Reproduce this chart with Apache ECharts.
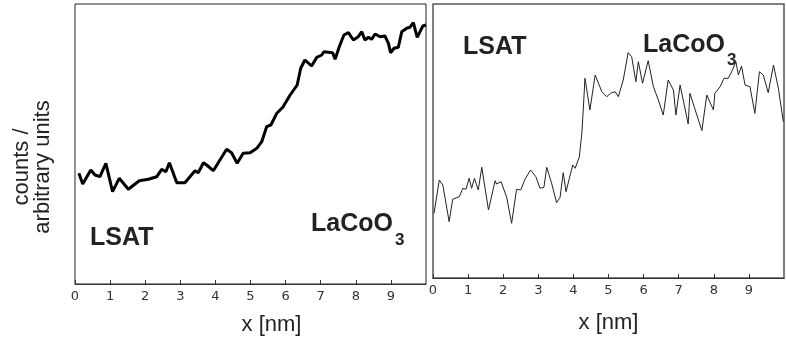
<!DOCTYPE html>
<html>
<head>
<meta charset="utf-8">
<script src="https://cdn.jsdelivr.net/npm/echarts@6/dist/echarts.min.js"></script>
<style>
  html, body { margin: 0; padding: 0; background: #fff; }
  #chart { width: 786px; height: 345px; }
</style>
</head>
<body>
<div id="chart"></div>
<script>
// x ticks shared by both panels (nm)
var xTicks = [0, 1, 2, 3, 4, 5, 6, 7, 8, 9];

// left panel: smoothed profile, arbitrary counts
var leftX = [0.11, 0.22, 0.45, 0.57, 0.71, 0.88, 1.07, 1.26, 1.52, 1.83, 2.09, 2.33, 2.47, 2.59, 2.69,
  2.90, 3.13, 3.42, 3.51, 3.66, 3.75, 3.94, 4.13, 4.32, 4.46, 4.62, 4.79, 4.99, 5.18, 5.32, 5.46,
  5.58, 5.75, 5.92, 6.13, 6.33, 6.43, 6.55, 6.74, 6.89, 7.03, 7.09, 7.34, 7.41, 7.53, 7.66, 7.79,
  7.93, 8.07, 8.17, 8.26, 8.36, 8.45, 8.55, 8.69, 8.83, 8.93, 8.99, 9.09, 9.21, 9.31, 9.45, 9.54,
  9.64, 9.75, 9.83, 9.91, 10.0];
var leftY = [110.7, 100, 114, 109, 107.3, 120.7, 92.3, 105.7, 94.7, 103.3, 104.7, 107.3, 114.7, 112.3, 121.3,
  101.3, 101.3, 113.3, 111.3, 121.3, 119, 113.3, 124, 134.7, 131.3, 120.7, 130.7, 131.3, 135.7, 142.3, 157.3,
  159, 170.7, 176.7, 189, 199, 215.7, 224, 218, 226.7, 229, 232.3, 231.3, 224.7, 237.3, 249, 251.3,
  244, 247.3, 252.3, 244, 246.7, 244.7, 250, 247.3, 248, 240.7, 231.3, 235.7, 236.7, 252.3, 255.7, 256.7,
  261.3, 246.7, 252.3, 258, 259];

// right panel: raw profile, arbitrary counts
var rightX = [0.03, 0.18, 0.28, 0.46, 0.56, 0.75, 0.85, 0.94, 1.03, 1.10, 1.18, 1.29, 1.39, 1.58, 1.77,
  1.81, 1.94, 2.10, 2.24, 2.38, 2.50, 2.62, 2.78, 2.93, 3.05, 3.16, 3.24, 3.38, 3.52, 3.62, 3.71,
  3.79, 3.98, 4.05, 4.17, 4.24, 4.28, 4.33, 4.47, 4.62, 4.81, 4.95, 5.06, 5.19, 5.28, 5.42, 5.56,
  5.66, 5.78, 5.85, 5.97, 6.13, 6.28, 6.42, 6.56, 6.70, 6.85, 6.92, 7.04, 7.27, 7.32, 7.66, 7.80,
  7.99, 8.03, 8.18, 8.29, 8.41, 8.51, 8.63, 8.70, 8.79, 8.89, 9.03, 9.17, 9.30, 9.41, 9.55, 9.70,
  9.84, 9.98];
var rightY = [64.7, 98, 93, 56.3, 78.7, 81.3, 89.7, 88.7, 99.7, 89.7, 99.7, 88, 110.7, 68, 97.3,
  94, 96.3, 80.7, 54.7, 88.7, 88, 98.7, 108, 101.3, 89.7, 90.7, 110.7, 94.7, 75.3, 80.7, 105.3,
  86.3, 113, 109.7, 121.3, 144.7, 168, 199.7, 168, 203, 186.3, 181.3, 184.7, 186.3, 181.3, 198, 225.3,
  221.3, 196.3, 216.3, 194.7, 217.3, 191.3, 178, 163, 198, 188, 163, 193, 154, 184.7, 147.3, 183,
  168, 184.7, 191.3, 199.7, 199.7, 206.3, 216.3, 203, 212, 193, 191.3, 164.7, 206.3, 203, 185.3, 213,
  189.7, 156.3];

function pairs(xs, ys) {
  return xs.map(function (x, i) { return [x, ys[i]]; });
}

var chart = echarts.init(document.getElementById('chart'));

function xAxisFor(gridIndex, nameGap, namePad) {
  return {
    type: 'value',
    gridIndex: gridIndex,
    min: 0,
    max: 10,
    interval: 1,
    name: 'x [nm]',
    nameLocation: 'middle',
    nameGap: nameGap,
    nameTextStyle: {
      fontFamily: 'Liberation Sans',
      fontSize: 22,
      color: '#222',
      padding: namePad
    },
    axisLine: { lineStyle: { color: '#333', width: 1 } },
    axisTick: { inside: true, length: 4, lineStyle: { color: '#333' } },
    axisLabel: {
      showMaxLabel: false,
      margin: 6,
      fontFamily: 'DejaVu Sans',
      fontSize: 13,
      color: '#333',
      formatter: function (v) { return xTicks.indexOf(v) >= 0 ? String(v) : ''; }
    },
    splitLine: { show: false }
  };
}

var boldText = { fontFamily: 'Liberation Sans', fontWeight: 'bold', fill: '#222' };

function label(x, y, text, size) {
  return {
    type: 'text', x: x, y: y,
    style: Object.assign({ text: text, fontSize: size, align: 'left', verticalAlign: 'middle' }, boldText)
  };
}

chart.setOption({
  animation: false,
  grid: [
    { left: 75, top: 4, right: 360, bottom: 61, show: true, borderColor: '#222', borderWidth: 1 },
    { left: 433, top: 4, right: 2, bottom: 67, show: true, borderColor: '#555', borderWidth: 1.5 }
  ],
  xAxis: [
    xAxisFor(0, 30, [0, 0, 0, 42]),
    xAxisFor(1, 34, [0, 0, 0, 0])
  ],
  yAxis: [
    { type: 'value', gridIndex: 0, min: 0, max: 280, show: false },
    { type: 'value', gridIndex: 1, min: 0, max: 274, show: false }
  ],
  series: [
    {
      type: 'line', xAxisIndex: 0, yAxisIndex: 0, showSymbol: false,
      lineStyle: { color: '#000', width: 3 },
      data: pairs(leftX, leftY)
    },
    {
      type: 'line', xAxisIndex: 1, yAxisIndex: 1, showSymbol: false,
      lineStyle: { color: '#222', width: 1 },
      data: pairs(rightX, rightY)
    }
  ],
  graphic: [
    {
      type: 'text', x: 32, y: 167, rotation: Math.PI / 2,
      style: {
        text: 'counts /\narbitrary units',
        fontFamily: 'Liberation Sans', fontSize: 22, lineHeight: 21,
        fill: '#222', align: 'center', verticalAlign: 'middle'
      }
    },
    label(90, 238, 'LSAT', 25),
    label(311, 224, 'LaCoO', 25),
    label(395, 240, '3', 17),
    label(643, 45, 'LaCoO', 25),
    label(727, 60, '3', 17),
    label(463, 47, 'LSAT', 25)
  ]
});
</script>
</body>
</html>
